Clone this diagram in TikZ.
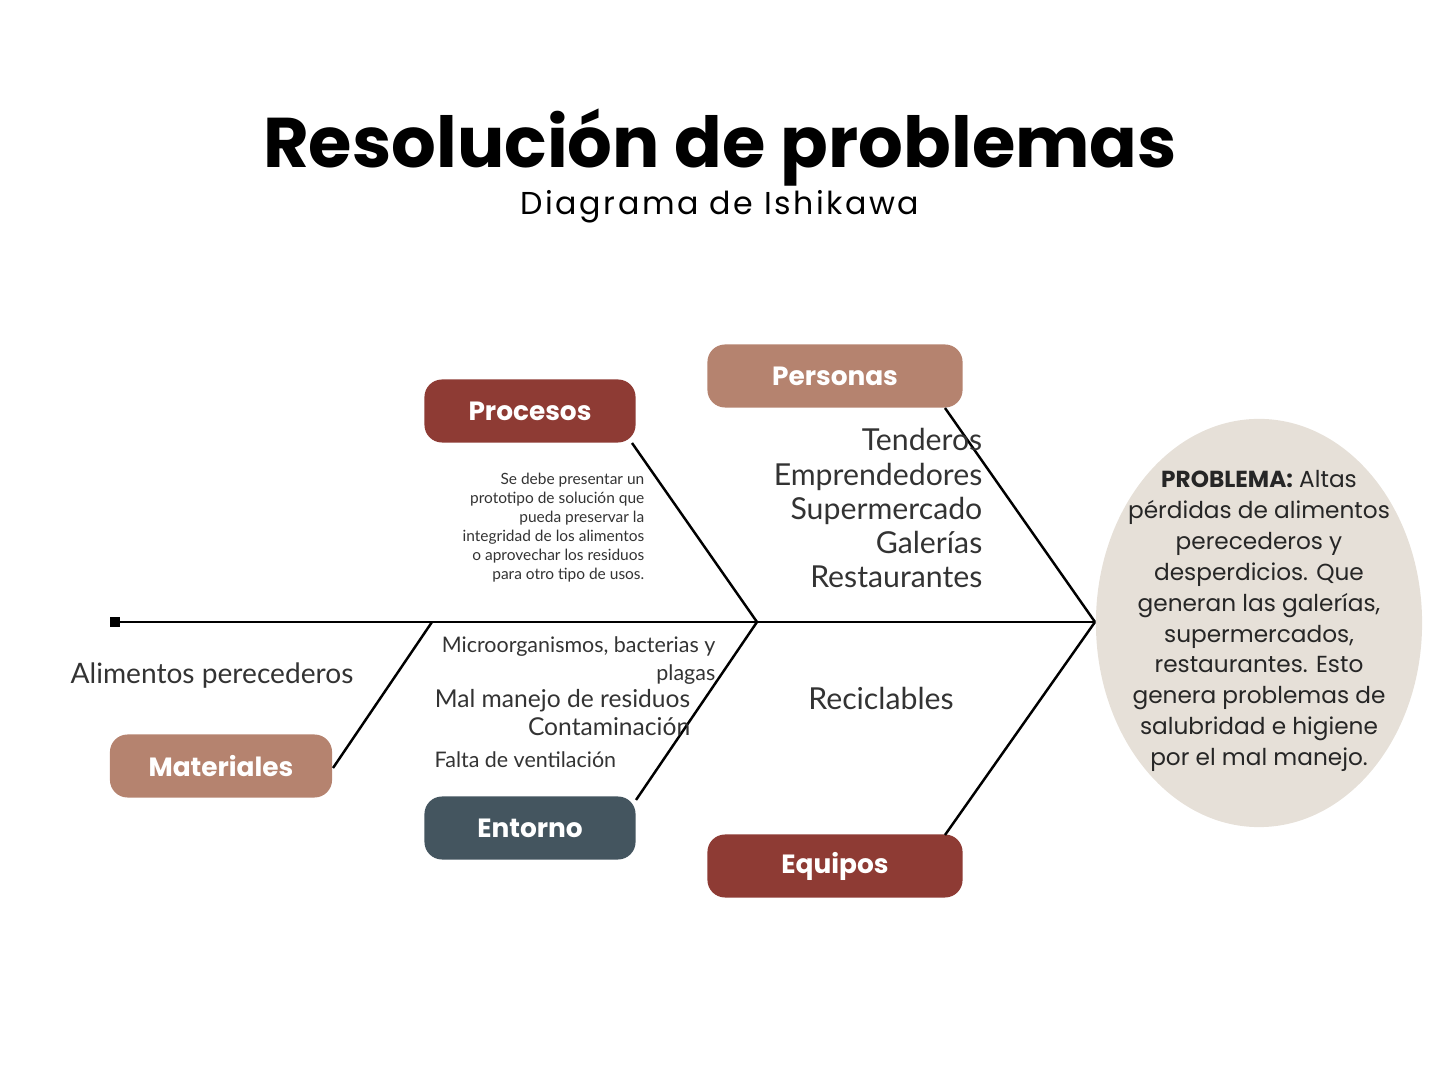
\documentclass[tikz,border=0pt]{standalone}
\usepackage{fontspec}
\usetikzlibrary{shapes.geometric}
\setmainfont{Poppins}
\newfontfamily\lt{Lato}
\definecolor{red1}{HTML}{8E3B34}
\definecolor{tan1}{HTML}{B5836F}
\definecolor{slate}{HTML}{44555F}
\definecolor{beige}{HTML}{E6E0D8}
\begin{document}
\begin{tikzpicture}[x=0.01cm,y=-0.01cm,
 cat/.style={rounded corners=5pt,text=white,font=\fontsize{7.5}{9}\selectfont\bfseries,inner sep=0pt},
 bone/.style={line width=0.7pt},
 lbl/.style={font=\lt\fontsize{8.6}{9.7}\selectfont,align=right,text=black!80,inner sep=0pt}]
\useasboundingbox (0,0) rectangle (1439,1080);
\node (title) at (720,148) {\fontsize{20}{24}\selectfont\bfseries Resolución de problemas};
\node (sub) at (720,207) {\fontsize{9}{11}\selectfont\addfontfeature{LetterSpace=8}Diagrama de Ishikawa};
\node[ellipse,fill=beige,minimum width=3.26cm,minimum height=4.08cm,inner sep=0pt] (ell) at (1259,623) {};
\node[align=center,font=\fontsize{6.6}{8.8}\selectfont,text=black!85] (prob) at (1259,621) {\textbf{PROBLEMA:} Altas\\pérdidas de alimentos\\perecederos y\\desperdicios. Que\\generan las galerías,\\supermercados,\\restaurantes. Esto\\genera problemas de\\salubridad e higiene\\por el mal manejo.};
\coordinate (head) at (1095,622);
\coordinate (tail) at (115,622);
\coordinate (j1) at (757,622);
\coordinate (j2) at (432,622);
\draw[bone] (tail) -- (head);
\fill (tail) ++(-5,-5) rectangle ++(10,10);
\node[cat,fill=red1,minimum width=2.11cm,minimum height=0.63cm] (proc) at (530,411) {Procesos};
\node[cat,fill=tan1,minimum width=2.55cm,minimum height=0.63cm] (pers) at (835,376) {Personas};
\node[cat,fill=tan1,minimum width=2.22cm,minimum height=0.63cm] (mat) at (221,766) {Materiales};
\node[cat,fill=slate,minimum width=2.11cm,minimum height=0.63cm] (ent) at (530,828) {Entorno};
\node[cat,fill=red1,minimum width=2.55cm,minimum height=0.63cm] (equ) at (835,866) {Equipos};
\draw[bone] (632,443) -- (j1);
\draw[bone] (945,408) -- (head);
\draw[bone] (333,768) -- (j2);
\draw[bone] (636,800) -- (j1);
\draw[bone] (945,835) -- (head);
\node[lbl,font=\lt\fontsize{4.4}{5.4}\selectfont,anchor=north east] (t1) at (645,472) {Se debe presentar un\\prototipo de solución que\\pueda preservar la\\integridad de los alimentos\\o aprovechar los residuos\\para otro tipo de usos.};
\node[lbl,anchor=north east] (t2) at (983,428) {Tenderos\\Emprendedores\\Supermercado\\Galerías\\Restaurantes};
\node[lbl,font=\lt\fontsize{8}{8}\selectfont] (t3) at (212,676) {Alimentos perecederos};
\node[lbl,font=\lt\fontsize{6.1}{7.9}\selectfont,anchor=north east] (t4) at (716,636) {Microorganismos, bacterias y\\plagas};
\node[lbl,font=\lt\fontsize{7}{8}\selectfont,anchor=north east] (t5) at (691,689) {Mal manejo de residuos\\Contaminación};
\node[lbl,font=\lt\fontsize{6.1}{7}\selectfont,anchor=west] (t6) at (434,760) {Falta de ventilación};
\node[lbl] (t7) at (881,698) {Reciclables};
\end{tikzpicture}
\end{document}
